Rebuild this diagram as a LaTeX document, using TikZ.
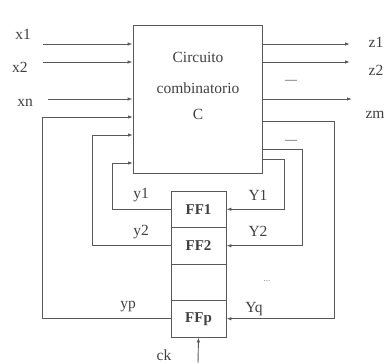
\documentclass[tikz,border=0pt]{standalone}
\usepackage{fontspec}
\setmainfont{Liberation Serif}
\usetikzlibrary{arrows.meta}

\begin{document}
\begin{tikzpicture}[x=1pt, y=-1pt, >={Latex[length=5pt,width=3.5pt]},
    line width=0.9pt, draw=black!65, text=black!75,
    font=\fontsize{15.5}{17}\selectfont,
    ffbox/.style={draw, minimum width=55pt, minimum height=36.5pt, inner sep=0pt, font=\fontsize{15}{17}\selectfont\bfseries}]
            \useasboundingbox (0, 0) rectangle (390, 363);
            % combinational block
            \node[draw, minimum width=129pt, minimum height=148pt] (C) at (197.5, 99) {};
            \node (t1) at (198, 57) {Circuito};
            \node (t2) at (198, 88) {combinatorio};
            \node (t3) at (198, 114) {C};
            % flip-flops
            \node[ffbox] (FF1) at (198.5, 209.25) {FF1};
            \node[ffbox] (FF2) at (198.5, 245.75) {FF2};
            \node[ffbox] (FFd) at (198.5, 282.25) {};
            \node[ffbox] (FFp) at (198.5, 318.75) {FFp};
            
            % inputs
            \coordinate (i1) at (43, 44);
            \coordinate (i2) at (43, 62);
            \coordinate (in) at (48, 99);
            \draw[->] (i1) -- (i1 -| C.west);
            \draw[->] (i2) -- (i2 -| C.west);
            \draw[->] (in) -- (in -| C.west);
            \node (lx1) at (23, 34) {x1};
            \node (lx2) at (20, 67) {x2};
            \node (lxn) at (25, 103) {xn};
            
            % outputs
            \coordinate (o1) at (350, 44);
            \coordinate (o2) at (350, 62);
            \coordinate (om) at (352, 99);
            \draw[->] (o1 -| C.east) -- (o1);
            \draw[->] (o2 -| C.east) -- (o2);
            \draw[->] (om -| C.east) -- (om);
            \node (lz1) at (376, 42) {z1};
            \node (lz2) at (376, 70) {z2};
            \node (lzm) at (375, 115) {zm};
            \node[font=\fontsize{12}{14}\selectfont] (d1) at (291, 82) {---};
            \node[font=\fontsize{12}{14}\selectfont] (d2) at (291, 142) {---};
            
            % state feedback into C
            \coordinate (c1) at (133, 163);
            \coordinate (c2) at (133, 135);
            \coordinate (cp) at (133, 117);
            \draw[->] (FF1.west) -- ++(-58, 0) |- (c1);
            \draw[->] (FF2.west) -- ++(-78, 0) |- (c2);
            \draw[->] (FFp.west) -- ++(-128, 0) |- (cp);
            \node (ly1) at (141, 195) {y1};
            \node (ly2) at (141, 232) {y2};
            \node (lyp) at (128, 307) {yp};
            
            % next state from C
            \coordinate (e1) at (262, 159);
            \coordinate (e2) at (262, 149);
            \coordinate (eq) at (262, 121);
            \draw[->] (e1) -- ++(22, 0) |- (FF1.east);
            \draw[->] (e2) -- ++(40, 0) |- (FF2.east);
            \draw[->] (eq) -- ++(72, 0) |- (FFp.east);
            \node (lY1) at (258, 195) {Y1};
            \node (lY2) at (258, 231) {Y2};
            \node (lYq) at (254, 309) {Yq};
            \node[font=\fontsize{9}{10}\selectfont, text=black!50] (dots) at (267, 281) {...};
            
            % clock
            \coordinate (ck) at (198, 363);
            \draw[->] (ck) -- (FFp.south);
            \node (lck) at (164, 355) {ck};
    	\end{tikzpicture}
\end{document}
